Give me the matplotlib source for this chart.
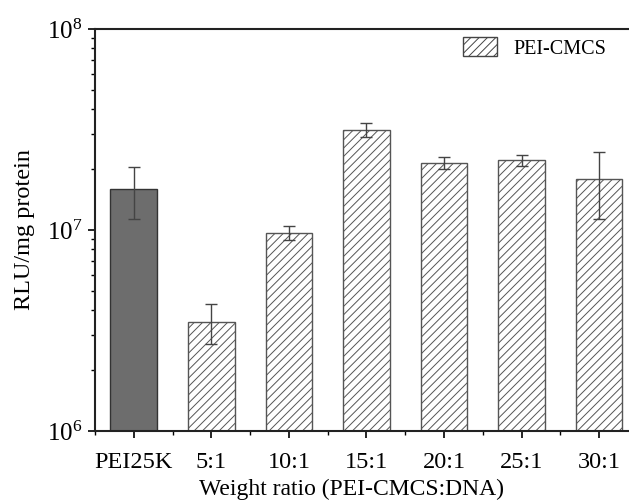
import matplotlib
matplotlib.use('Agg')
import matplotlib.pyplot as plt
from matplotlib.ticker import LogLocator, NullFormatter, FixedLocator
from matplotlib.patches import Patch

plt.rcParams['font.family'] = 'Liberation Serif'
plt.rcParams['mathtext.fontset'] = 'stix'
plt.rcParams['hatch.linewidth'] = 0.7
plt.rcParams['hatch.color'] = '#555555'

# data
labels = ['PEI25K', '5:1', '10:1', '15:1', '20:1', '25:1', '30:1']
values = [1.60e7, 3.5e6, 9.7e6, 3.15e7, 2.16e7, 2.23e7, 1.79e7]
errors = [0.46e7, 0.8e6, 0.8e6, 0.25e7, 0.15e7, 0.14e7, 0.65e7]

fig = plt.figure(figsize=(6.29, 5.0), dpi=100)
ax = fig.add_axes([0.151, 0.138, 0.8633, 0.804])

x = list(range(len(labels)))
ax.bar(x[0], values[0], width=0.6, color='#6d6d6d', edgecolor='#333333', linewidth=1.0)
ax.bar(x[1:], values[1:], width=0.6, color='white', edgecolor='#555555',
       linewidth=1.0, hatch='////', label='PEI-CMCS')
ax.errorbar(x, values, yerr=errors, fmt='none', ecolor='#444444',
            elinewidth=1.0, capsize=4, capthick=1.0)

ax.set_yscale('log')
ax.set_ylim(1e6, 1e8)
ax.set_xlim(-0.5, 6.5)

ax.set_xticks(x)
ax.set_xticklabels(labels, fontsize=17.5)
ax.xaxis.set_minor_locator(FixedLocator([i + 0.5 for i in range(-1, 7)]))
ax.yaxis.set_major_locator(LogLocator(base=10, numticks=5))
ax.yaxis.set_minor_locator(LogLocator(base=10, subs=range(2, 10), numticks=20))
ax.yaxis.set_minor_formatter(NullFormatter())
ax.tick_params(axis='y', which='major', labelsize=18, length=5, width=1.2, pad=4)
ax.tick_params(axis='y', which='minor', length=3, width=1.0)
ax.tick_params(axis='x', which='major', length=5, width=1.2, pad=10)
ax.tick_params(axis='x', which='minor', length=3, width=1.0)

for s in ax.spines.values():
    s.set_linewidth(1.5)
    s.set_color('#222222')

ax.set_xlabel('Weight ratio (PEI-CMCS:DNA)', fontsize=17)
ax.xaxis.set_label_coords(0.473, -0.118)
ax.set_ylabel('RLU/mg protein', fontsize=17.5)
ax.yaxis.set_label_coords(-0.11, 0.5)

handle = Patch(facecolor='white', edgecolor='#444444', hatch='////', linewidth=1.0)
fig.legend([handle], ['PEI-CMCS'], loc='upper left', bbox_to_anchor=(463 / 629, 1 - 37 / 500),
           frameon=False, fontsize=14.5, borderpad=0, borderaxespad=0,
           handlelength=1.7, handleheight=1.1, handletextpad=0.8)

fig.savefig('out.png', dpi=100)
